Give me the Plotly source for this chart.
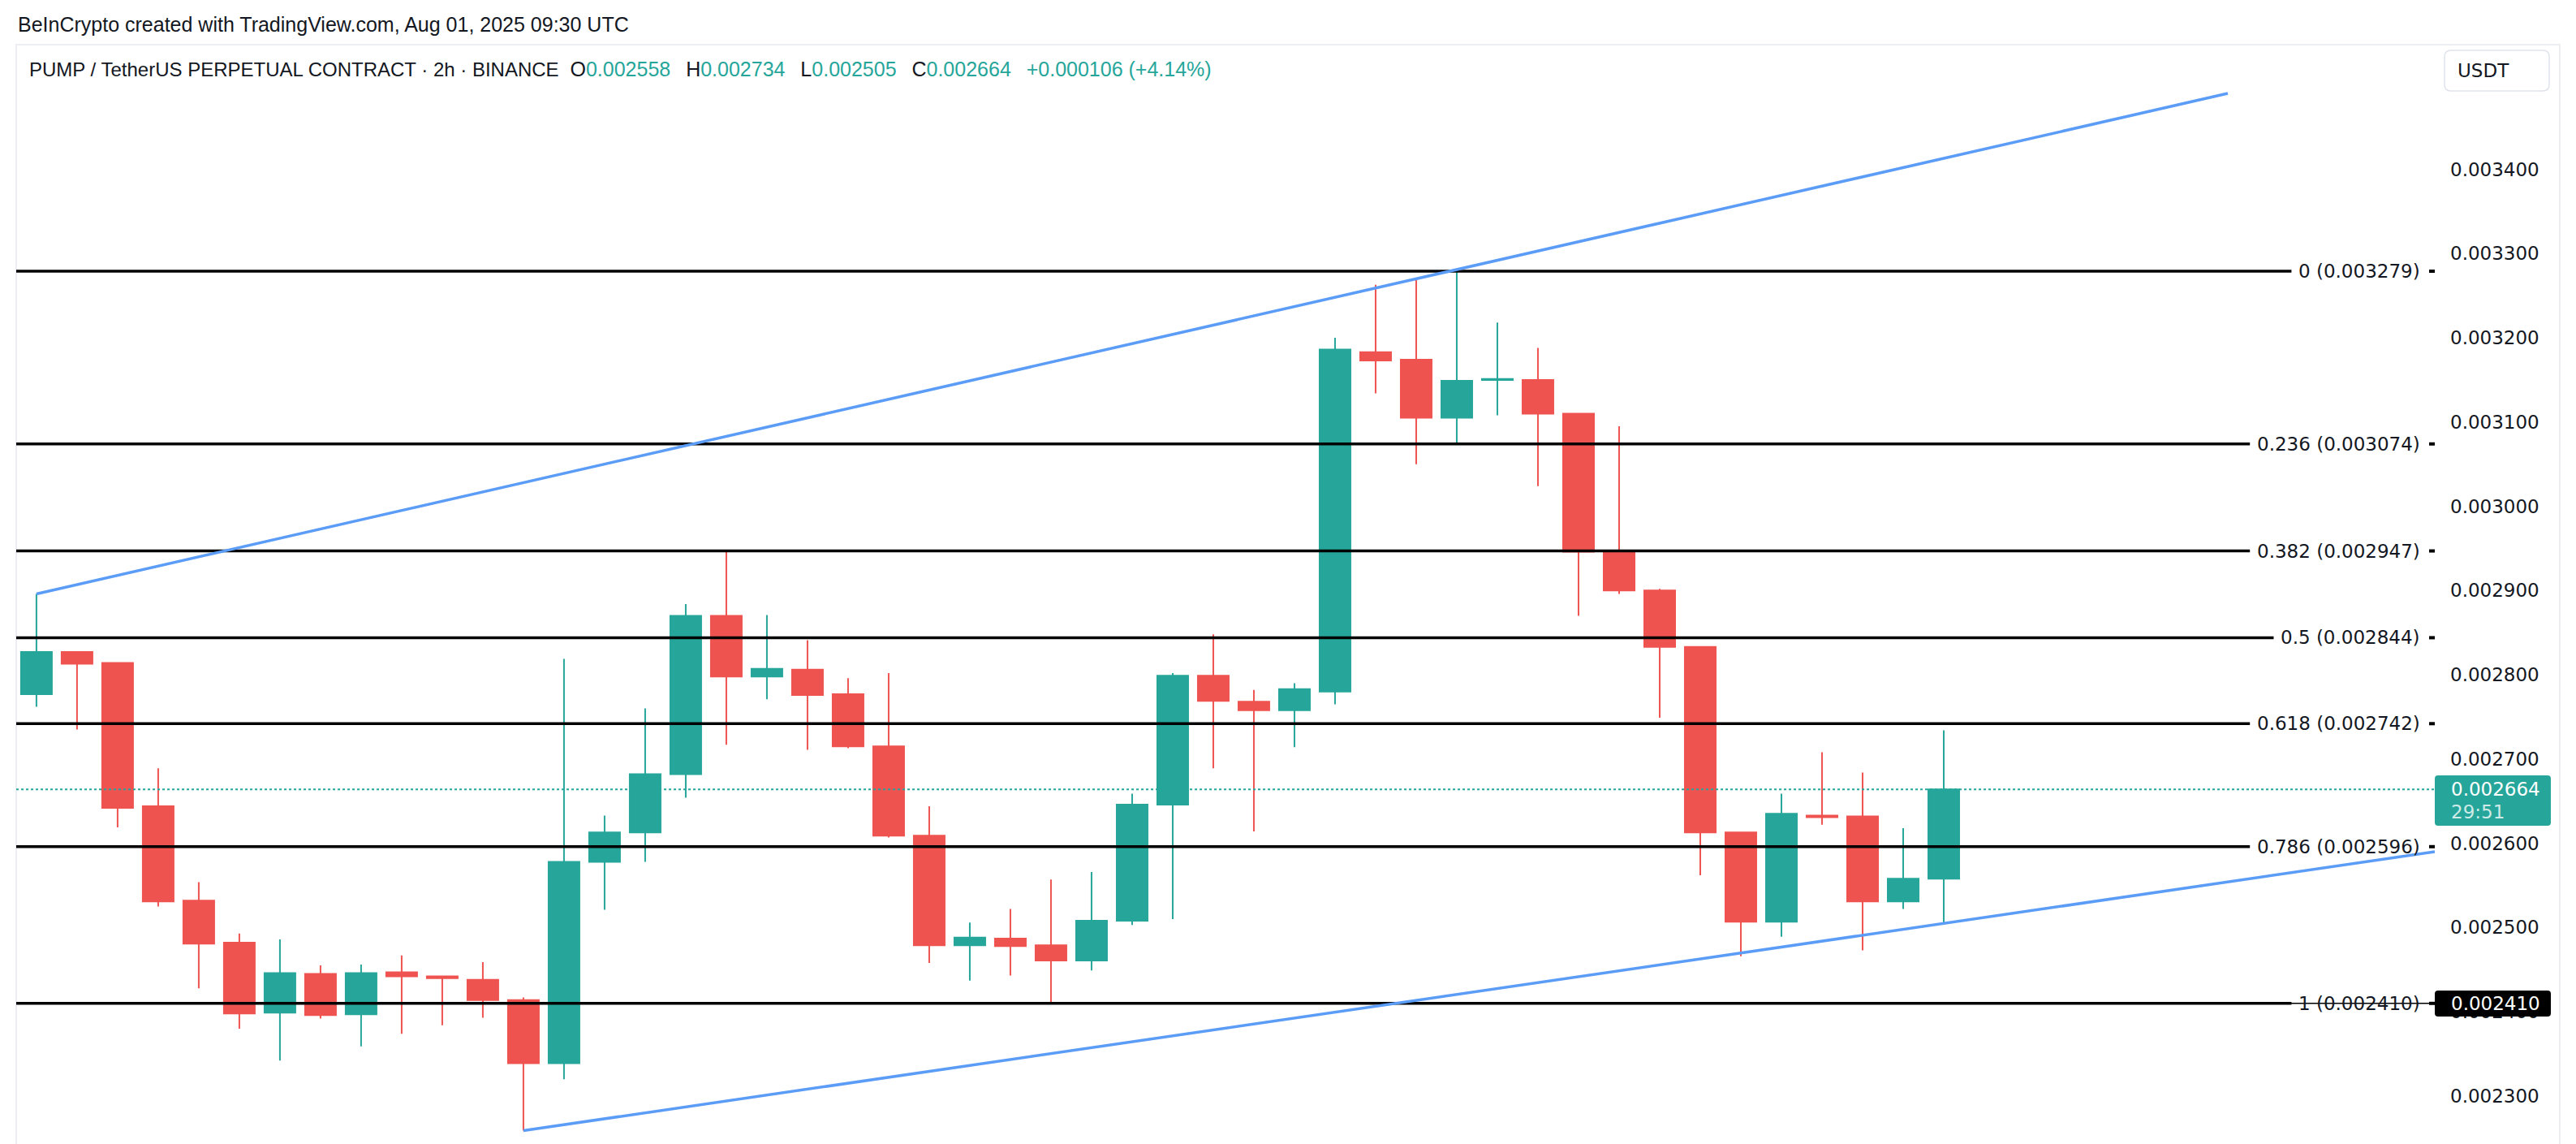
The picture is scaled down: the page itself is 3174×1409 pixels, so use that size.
import plotly.graph_objects as go

# ---------------- data ----------------
idx = list(range(48))
opens = [0.002777, 0.002827, 0.002814, 0.002644, 0.002532, 0.002482, 0.002399, 0.002445,
         0.002397, 0.002447, 0.002442, 0.002438, 0.002414, 0.002339, 0.002578, 0.002613,
         0.002682, 0.002870, 0.002798, 0.002806, 0.002777, 0.002715, 0.002609, 0.002479,
         0.002487, 0.002479, 0.002461, 0.002508, 0.002646, 0.002799, 0.002768, 0.002758,
         0.002780, 0.003183, 0.003174, 0.003105, 0.003150, 0.003150, 0.003110, 0.002947,
         0.002900, 0.002833, 0.002613, 0.002507, 0.002633, 0.002632, 0.002531, 0.002558]
highs = [0.002896, 0.002828, 0.002815, 0.002689, 0.002554, 0.002493, 0.002486, 0.002455,
         0.002456, 0.002467, 0.002443, 0.002459, 0.002417, 0.002819, 0.002633, 0.002760,
         0.002884, 0.002948, 0.002871, 0.002841, 0.002796, 0.002802, 0.002644, 0.002506,
         0.002522, 0.002557, 0.002566, 0.002659, 0.002802, 0.002848, 0.002782, 0.002790,
         0.003200, 0.003263, 0.003269, 0.003279, 0.003218, 0.003188, 0.003110, 0.003095,
         0.002902, 0.002833, 0.002613, 0.002659, 0.002708, 0.002684, 0.002618, 0.002734]
lows = [0.002762, 0.002735, 0.002619, 0.002525, 0.002428, 0.002380, 0.002342, 0.002392,
        0.002359, 0.002374, 0.002384, 0.002393, 0.002259, 0.002320, 0.002521, 0.002578,
        0.002654, 0.002717, 0.002771, 0.002711, 0.002713, 0.002607, 0.002458, 0.002437,
        0.002443, 0.002410, 0.002449, 0.002503, 0.002510, 0.002689, 0.002614, 0.002714,
        0.002765, 0.003134, 0.003050, 0.003075, 0.003108, 0.003024, 0.002870, 0.002896,
        0.002749, 0.002562, 0.002466, 0.002489, 0.002622, 0.002473, 0.002522, 0.002505]
closes = [0.002827, 0.002813, 0.002642, 0.002531, 0.002481, 0.002398, 0.002446, 0.002396,
          0.002446, 0.002442, 0.002440, 0.002414, 0.002339, 0.002578, 0.002613, 0.002682,
          0.002870, 0.002798, 0.002807, 0.002776, 0.002715, 0.002609, 0.002479, 0.002488,
          0.002478, 0.002461, 0.002508, 0.002646, 0.002799, 0.002769, 0.002758, 0.002783,
          0.003186, 0.003173, 0.003105, 0.003149, 0.003151, 0.003110, 0.002946, 0.002900,
          0.002833, 0.002613, 0.002507, 0.002635, 0.002631, 0.002531, 0.002558, 0.002664]

fib_ratios = ["0", "0.236", "0.382", "0.5", "0.618", "0.786", "1"]
fib_prices = [0.003279, 0.003074, 0.002947, 0.002844, 0.002742, 0.002596, 0.002410]

upper_x = [0, 54]
upper_y = [0.002896, 0.003490]
lower_x = [12, 59.1]
lower_y = [0.002259, 0.002590]

tick_vals = [0.0023, 0.0024, 0.0025, 0.0026, 0.0027, 0.0028, 0.0029,
             0.0030, 0.0031, 0.0032, 0.0033, 0.0034]
tick_text = [f"{v:.6f}" for v in tick_vals]

symbol_title = "PUMP / TetherUS PERPETUAL CONTRACT · 2h · BINANCE"
watermark = "BeInCrypto created with TradingView.com, Aug 01, 2025 09:30 UTC"
currency = "USDT"
countdown = "29:51"
marked_price = 0.002410

# ---------------- styling ----------------
GREEN = "#26a69a"
RED = "#ef5350"
BLUE = "#5b9cf6"
INK = "#131722"
W, H = 3174, 1409
PL, PR, PT, PB = 20, 3000, 55, 1409
XR = [-0.498, 59.1]
YR = [0.0022431, 0.0035479]
AXFONT = "DejaVu Sans"
AXSIZE = 23


def px_x(px):
    return (px - PL) / (PR - PL)


def px_y(py):
    return (PB - py) / (PB - PT)


def data_x(px):
    return XR[0] + (px - PL) / (PR - PL) * (XR[1] - XR[0])


DV = {".": 0.318, " ": 0.318, "(": 0.390, ")": 0.390}


def text_w(s, size):
    return sum(DV.get(c, 0.636) for c in s) * size


fig = go.Figure()

fig.add_trace(go.Candlestick(
    x=idx, open=opens, high=highs, low=lows, close=closes,
    increasing=dict(line=dict(color=GREEN, width=2), fillcolor=GREEN),
    decreasing=dict(line=dict(color=RED, width=2), fillcolor=RED),
    whiskerwidth=0, hoverinfo="skip", showlegend=False,
))

# current price dotted line
last = closes[-1]
fig.add_trace(go.Scatter(x=XR, y=[last, last], mode="lines",
                         line=dict(color=GREEN, width=1.8, dash="dot"),
                         hoverinfo="skip", showlegend=False))

# thin price line for marked level
fig.add_trace(go.Scatter(x=XR, y=[marked_price, marked_price], mode="lines",
                         line=dict(color="#000000", width=1.5),
                         hoverinfo="skip", showlegend=False))

LABEL_RIGHT = 2984
annotations = []
for r, p in zip(fib_ratios, fib_prices):
    label = f"{r} ({p:.6f})"
    end_px = LABEL_RIGHT - text_w(label, AXSIZE) - 11
    fig.add_trace(go.Scatter(x=[XR[0], data_x(end_px)], y=[p, p], mode="lines",
                             line=dict(color="#000000", width=3.5),
                             hoverinfo="skip", showlegend=False))
    fig.add_trace(go.Scatter(x=[data_x(2993), XR[1]], y=[p, p], mode="lines",
                             line=dict(color="#000000", width=4),
                             hoverinfo="skip", showlegend=False))
    annotations.append(dict(text=label, xref="paper", x=px_x(LABEL_RIGHT), xanchor="right",
                            yref="y", y=p, yanchor="middle", showarrow=False,
                            font=dict(family=AXFONT, size=AXSIZE, color=INK)))

# trend lines
fig.add_trace(go.Scatter(x=upper_x, y=upper_y, mode="lines",
                         line=dict(color=BLUE, width=3.5), hoverinfo="skip", showlegend=False))
fig.add_trace(go.Scatter(x=lower_x, y=lower_y, mode="lines",
                         line=dict(color=BLUE, width=3.5), hoverinfo="skip", showlegend=False))

# header texts
annotations.append(dict(text=watermark, xref="paper", x=0, xanchor="left",
                        yref="paper", y=1, yanchor="middle", yshift=25, showarrow=False,
                        font=dict(family="Liberation Sans", size=25, color=INK)))

o, h, l, c = opens[-1], highs[-1], lows[-1], closes[-1]
chg = c - closes[-2]
pct = chg / closes[-2] * 100
sp = "\u00a0\u00a0"
sp2 = "\u00a0\u00a0\u2009"


def val(v):
    return f"<span style='color:{GREEN}'>{v}</span>"


title = (f"<span style='font-size:24px'>{symbol_title}</span>{sp}O{val(f'{o:.6f}')}{sp2}H{val(f'{h:.6f}')}{sp2}"
         f"L{val(f'{l:.6f}')}{sp2}C{val(f'{c:.6f}')}{sp2}{val(f'{chg:+.6f} ({pct:+.2f}%)')}")
annotations.append(dict(text=title, xref="paper", x=px_x(34), xanchor="left",
                        yref="paper", y=1, yanchor="middle", yshift=-30, showarrow=False,
                        font=dict(family="Liberation Sans", size=25, color=INK)))

# right side labels
annotations.append(dict(text=currency, xref="paper", x=px_x(3026), xanchor="left",
                        yref="paper", y=px_y(87), yanchor="middle", showarrow=False,
                        font=dict(family=AXFONT, size=AXSIZE, color=INK)))
annotations.append(dict(text=f"{last:.6f}", xref="paper", x=px_x(3018), xanchor="left",
                        yref="y", y=last, yanchor="middle", showarrow=False,
                        font=dict(family=AXFONT, size=AXSIZE, color="#ffffff")))
annotations.append(dict(text=countdown, xref="paper", x=px_x(3018), xanchor="left",
                        yref="y", y=last, yanchor="middle", yshift=-28, showarrow=False,
                        font=dict(family=AXFONT, size=AXSIZE, color="rgba(255,255,255,0.78)")))
annotations.append(dict(text=f"{marked_price:.6f}", xref="paper", x=px_x(3018), xanchor="left",
                        yref="y", y=marked_price, yanchor="middle", showarrow=False,
                        font=dict(family=AXFONT, size=AXSIZE, color="#ffffff")))


def rrect(x0, y0, x1, y1, r):
    rx = r / (PR - PL)
    ry = r / (PB - PT)
    X0, X1 = px_x(x0), px_x(x1)
    Y0, Y1 = px_y(y0), px_y(y1)  # Y0 top (bigger), Y1 bottom
    return (f"M {X0+rx},{Y0} L {X1-rx},{Y0} Q {X1},{Y0} {X1},{Y0-ry} "
            f"L {X1},{Y1+ry} Q {X1},{Y1} {X1-rx},{Y1} L {X0+rx},{Y1} "
            f"Q {X0},{Y1} {X0},{Y1+ry} L {X0},{Y0-ry} Q {X0},{Y0} {X0+rx},{Y0} Z")


shapes = [
    # panel border
    dict(type="rect", xref="paper", yref="paper", x0=px_x(20), x1=px_x(3154),
         y0=px_y(1420), y1=px_y(55), line=dict(color="#eceef2", width=2), layer="below"),
    # currency box
    dict(type="path", xref="paper", yref="paper", path=rrect(3012, 62, 3141, 112, 8),
         line=dict(color="#e0e3eb", width=1.5), layer="above"),
    # current price box
    dict(type="path", xref="paper", yref="paper", path=rrect(3000, 955, 3143, 1017, 4),
         fillcolor=GREEN, line=dict(width=0), layer="above"),
    # marked price box
    dict(type="path", xref="paper", yref="paper", path=rrect(3000, 1220, 3143, 1252, 4),
         fillcolor="#000000", line=dict(width=0), layer="above"),
]

fig.update_layout(
    width=W, height=H,
    margin=dict(l=PL, r=W - PR, t=PT, b=H - PB, pad=0),
    paper_bgcolor="#ffffff", plot_bgcolor="#ffffff",
    showlegend=False, hovermode=False,
    boxgap=0.24, boxgroupgap=0,
    annotations=annotations, shapes=shapes,
    xaxis=dict(range=XR, visible=False, showgrid=False, zeroline=False,
               rangeslider=dict(visible=False), fixedrange=True),
    yaxis=dict(range=YR, side="right", showgrid=False, zeroline=False, showline=False,
               tickvals=tick_vals, ticktext=tick_text, ticks="", ticklabelstandoff=18,
               tickfont=dict(family=AXFONT, size=AXSIZE, color=INK), fixedrange=True),
)

fig.write_html("out.html")
